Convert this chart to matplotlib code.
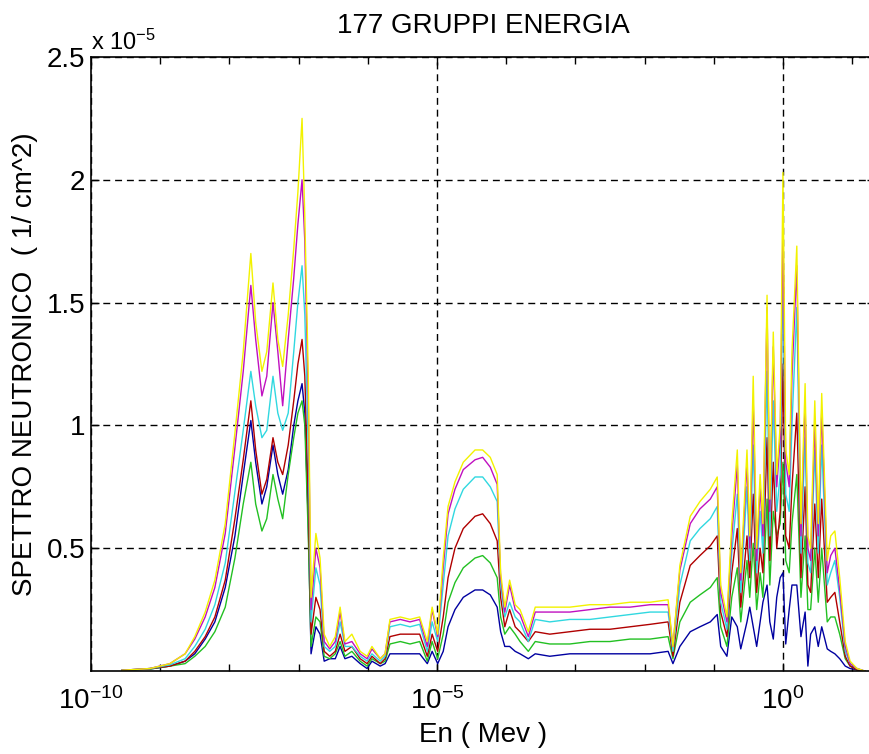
import numpy as np
import matplotlib
matplotlib.use("Agg")
import matplotlib.pyplot as plt
from matplotlib.ticker import FixedLocator, FixedFormatter, NullFormatter

plt.rcParams['font.family'] = ['Liberation Sans', 'DejaVu Sans']
plt.rcParams['mathtext.fontset'] = 'custom'
plt.rcParams['mathtext.rm'] = 'Liberation Sans'
plt.rcParams['mathtext.it'] = 'Liberation Sans:italic'
plt.rcParams['mathtext.bf'] = 'Liberation Sans:bold'

# log10 of neutron energy (MeV)
log_energy = [-9.55, -9.15, -8.86, -8.64, -8.50, -8.35, -8.21, -8.06, -7.92, -7.80,
              -7.69, -7.62, -7.53, -7.46, -7.37, -7.30, -7.23, -7.15, -7.07, -7.01,
              -6.95, -6.91, -6.86, -6.82, -6.75, -6.69, -6.63, -6.55, -6.47, -6.40,
              -6.33, -6.23, -6.11, -6.01, -5.94, -5.82, -5.75, -5.68, -5.53, -5.39,
              -5.25, -5.14, -5.07, -4.99, -4.91, -4.84, -4.74, -4.62, -4.45, -4.34,
              -4.23, -4.13, -4.08, -4.02, -3.95, -3.87, -3.80, -3.68, -3.58, -3.37,
              -3.08, -2.79, -2.50, -2.21, -1.92, -1.66, -1.59, -1.49, -1.34, -1.20,
              -1.05, -0.95, -0.90, -0.81, -0.74, -0.66, -0.61, -0.52, -0.48, -0.43,
              -0.38, -0.33, -0.29, -0.23, -0.19, -0.14, -0.09, -0.04, 0.00, 0.04,
              0.09, 0.13, 0.20, 0.26, 0.32, 0.36, 0.40, 0.46, 0.51, 0.56,
              0.64, 0.69, 0.75, 0.82, 0.90, 0.97, 1.07, 1.18]

# spectra in units of 1e-5 (1/cm^2)
spec_blue = [0.003, 0.008, 0.02, 0.04, 0.07, 0.13, 0.2, 0.34, 0.55, 0.8,
             1.02, 0.85, 0.68, 0.75, 0.92, 0.8, 0.72, 0.82, 1.0, 1.1,
             1.17, 1.05, 0.6, 0.07, 0.18, 0.15, 0.04, 0.05, 0.05, 0.1,
             0.05, 0.06, 0.03, 0.01, 0.04, 0.02, 0.03, 0.07, 0.07, 0.07,
             0.07, 0.03, 0.08, 0.03, 0.08, 0.18, 0.25, 0.3, 0.33, 0.33,
             0.31, 0.26, 0.16, 0.1, 0.1, 0.08, 0.07, 0.05, 0.07, 0.06,
             0.07, 0.07, 0.07, 0.07, 0.07, 0.08, 0.03, 0.1, 0.16, 0.18,
             0.2, 0.23, 0.1, 0.06, 0.22, 0.18, 0.09, 0.2, 0.26, 0.18,
             0.1, 0.2, 0.28, 0.35, 0.2, 0.13, 0.3, 0.38, 0.4, 0.11,
             0.25, 0.35, 0.35, 0.14, 0.24, 0.02, 0.15, 0.18, 0.1, 0.18,
             0.09, 0.08, 0.07, 0.05, 0.02, 0.01, 0.005, 0.0]
spec_green = [0.003, 0.008, 0.02, 0.03, 0.06, 0.1, 0.16, 0.26, 0.46, 0.68,
              0.85, 0.68, 0.57, 0.62, 0.8, 0.7, 0.62, 0.8, 0.95, 1.05,
              1.1, 1.0, 0.55, 0.1, 0.22, 0.2, 0.06, 0.05, 0.07, 0.12,
              0.06, 0.08, 0.04, 0.02, 0.05, 0.03, 0.04, 0.11, 0.12, 0.11,
              0.12, 0.04, 0.12, 0.05, 0.15, 0.28, 0.36, 0.42, 0.46, 0.47,
              0.44, 0.38, 0.22, 0.15, 0.18, 0.15, 0.12, 0.08, 0.12, 0.11,
              0.11, 0.12, 0.12, 0.13, 0.13, 0.14, 0.05, 0.2, 0.28, 0.31,
              0.34, 0.38, 0.18, 0.1, 0.3, 0.42, 0.2, 0.45, 0.3, 0.52,
              0.25, 0.4, 0.3, 0.7, 0.35, 0.65, 0.55, 0.6, 0.85, 0.45,
              0.4, 0.6, 0.8, 0.3, 0.55, 0.25, 0.25, 0.5, 0.28, 0.5,
              0.2, 0.22, 0.22, 0.15, 0.05, 0.02, 0.005, 0.0]
spec_red = [0.003, 0.01, 0.02, 0.04, 0.08, 0.14, 0.22, 0.37, 0.62, 0.86,
            1.1, 0.9, 0.72, 0.78, 0.95, 0.85, 0.8, 0.92, 1.1, 1.25,
            1.35, 1.2, 0.7, 0.15, 0.3, 0.25, 0.08, 0.06, 0.08, 0.15,
            0.08, 0.1, 0.05, 0.03, 0.06, 0.03, 0.05, 0.14, 0.15, 0.15,
            0.15, 0.06, 0.15, 0.08, 0.22, 0.38, 0.5, 0.58, 0.63, 0.64,
            0.6, 0.53, 0.3, 0.18, 0.25, 0.18, 0.16, 0.12, 0.16, 0.15,
            0.16, 0.17, 0.17, 0.18, 0.19, 0.2, 0.06, 0.28, 0.43, 0.47,
            0.51, 0.55, 0.24, 0.14, 0.4, 0.58, 0.26, 0.55, 0.38, 0.72,
            0.32, 0.5, 0.4, 0.95, 0.45, 0.85, 0.5, 0.65, 1.25, 0.55,
            0.5, 0.75, 1.05, 0.38, 0.75, 0.35, 0.32, 0.68, 0.38, 0.7,
            0.28, 0.3, 0.32, 0.2, 0.06, 0.02, 0.005, 0.0]
spec_cyan = [0.003, 0.01, 0.025, 0.05, 0.1, 0.17, 0.27, 0.44, 0.73, 0.98,
             1.22, 1.08, 0.95, 0.98, 1.2, 1.05, 0.98, 1.05, 1.3, 1.5,
             1.65, 1.45, 0.9, 0.2, 0.42, 0.35, 0.1, 0.08, 0.1, 0.2,
             0.1, 0.1, 0.06, 0.04, 0.07, 0.04, 0.06, 0.18, 0.19, 0.18,
             0.19, 0.08, 0.2, 0.12, 0.35, 0.55, 0.66, 0.74, 0.79, 0.79,
             0.75, 0.69, 0.35, 0.22, 0.28, 0.22, 0.2, 0.12, 0.21, 0.2,
             0.21, 0.21, 0.22, 0.23, 0.24, 0.24, 0.08, 0.35, 0.53, 0.58,
             0.62, 0.67, 0.28, 0.17, 0.48, 0.72, 0.32, 0.75, 0.45, 0.92,
             0.4, 0.65, 0.48, 1.22, 0.55, 1.1, 0.65, 0.8, 1.62, 0.72,
             0.65, 1.0, 1.48, 0.48, 0.95, 0.44, 0.4, 0.9, 0.48, 0.92,
             0.35, 0.4, 0.45, 0.3, 0.08, 0.03, 0.01, 0.0]
spec_magenta = [0.003, 0.01, 0.03, 0.07, 0.13, 0.22, 0.34, 0.56, 0.91, 1.22,
                1.57, 1.35, 1.12, 1.2, 1.50, 1.3, 1.08, 1.35, 1.6, 1.82,
                2.0, 1.75, 1.1, 0.25, 0.5, 0.42, 0.12, 0.09, 0.12, 0.24,
                0.11, 0.12, 0.07, 0.05, 0.09, 0.05, 0.07, 0.2, 0.21, 0.2,
                0.21, 0.1, 0.25, 0.14, 0.42, 0.64, 0.74, 0.82, 0.86, 0.87,
                0.83, 0.76, 0.38, 0.24, 0.35, 0.25, 0.23, 0.14, 0.24, 0.24,
                0.24, 0.25, 0.26, 0.26, 0.27, 0.27, 0.1, 0.41, 0.6, 0.66,
                0.7, 0.75, 0.32, 0.2, 0.55, 0.84, 0.37, 0.85, 0.5, 1.1,
                0.45, 0.75, 0.55, 1.48, 0.65, 1.32, 0.75, 0.95, 1.8, 0.85,
                0.75, 1.2, 1.65, 0.55, 1.09, 0.5, 0.45, 1.01, 0.55, 1.06,
                0.4, 0.47, 0.5, 0.33, 0.1, 0.03, 0.01, 0.0]
spec_yellow = [0.003, 0.01, 0.03, 0.07, 0.14, 0.24, 0.37, 0.6, 0.97, 1.3,
               1.70, 1.42, 1.22, 1.3, 1.58, 1.35, 1.24, 1.45, 1.72, 1.95,
               2.25, 1.85, 1.2, 0.3, 0.56, 0.46, 0.15, 0.1, 0.14, 0.26,
               0.12, 0.15, 0.08, 0.06, 0.1, 0.05, 0.07, 0.21, 0.22, 0.21,
               0.22, 0.12, 0.26, 0.15, 0.46, 0.67, 0.77, 0.85, 0.9, 0.9,
               0.87, 0.8, 0.4, 0.26, 0.37, 0.27, 0.25, 0.16, 0.26, 0.26,
               0.26, 0.27, 0.27, 0.28, 0.28, 0.29, 0.1, 0.43, 0.63, 0.69,
               0.74, 0.79, 0.35, 0.22, 0.6, 0.9, 0.4, 0.9, 0.55, 1.2,
               0.5, 0.8, 0.6, 1.53, 0.7, 1.38, 0.8, 1.0, 2.03, 0.9,
               0.8, 1.3, 1.73, 0.6, 1.17, 0.55, 0.5, 1.1, 0.6, 1.13,
               0.45, 0.55, 0.57, 0.38, 0.12, 0.04, 0.01, 0.0]

series = [spec_blue, spec_green, spec_red, spec_cyan, spec_magenta, spec_yellow]
colors = ['#0000a0', '#22c022', '#b00000', '#30d8e0', '#c010c0', '#f2f200']

x_tick_exponents = [-10, -5, 0]
y_ticks = [0.5, 1.0, 1.5, 2.0, 2.5]
y_tick_labels = ['0.5', '1', '1.5', '2', '2.5']

W, H = 869, 754
fig = plt.figure(figsize=(W / 100, H / 100), dpi=100)
ax = fig.add_axes([91 / W, (H - 671) / H, (875 - 91) / W, (671 - 57) / H])

energy = 10.0 ** np.array(log_energy)
for ys, c in zip(series, colors):
    ax.plot(energy, ys, color=c, lw=1.0)

ax.set_xscale('log')
ax.set_xlim(1e-10, 10 ** 1.33)
ax.set_ylim(0, 2.5)

ax.xaxis.set_major_locator(FixedLocator([10.0 ** e for e in x_tick_exponents]))
ax.xaxis.set_major_formatter(FixedFormatter([r'$10^{%d}$' % e for e in x_tick_exponents]))
ax.xaxis.set_minor_locator(FixedLocator([10.0 ** e for e in range(-10, 2)]))
ax.xaxis.set_minor_formatter(NullFormatter())
ax.yaxis.set_major_locator(FixedLocator(y_ticks))
ax.yaxis.set_major_formatter(FixedFormatter(y_tick_labels))

ax.tick_params(which='both', direction='in', top=True, right=True,
               labelsize=20, width=1.0, color='black')
ax.tick_params(which='major', length=6)
ax.tick_params(which='minor', length=5)
ax.tick_params(axis='x', pad=12)
ax.tick_params(axis='y', pad=4)

ax.grid(True, which='major', color='black', linestyle=(0, (5, 3.5)), linewidth=1.0)
for s in ax.spines.values():
    s.set_linewidth(1.2)
    s.set_color('black')

ax.set_title('177 GRUPPI ENERGIA', fontsize=20, pad=17)
ax.set_xlabel('En ( Mev )', fontsize=20, labelpad=5)
ax.set_ylabel('SPETTRO NEUTRONICO  ( 1/ cm^2)', fontsize=20, labelpad=6)
fig.text(91 / W, 1 - 50 / H, r'x $10^{-5}$', fontsize=17, ha='left', va='baseline')

fig.savefig('out.png', dpi=100)
